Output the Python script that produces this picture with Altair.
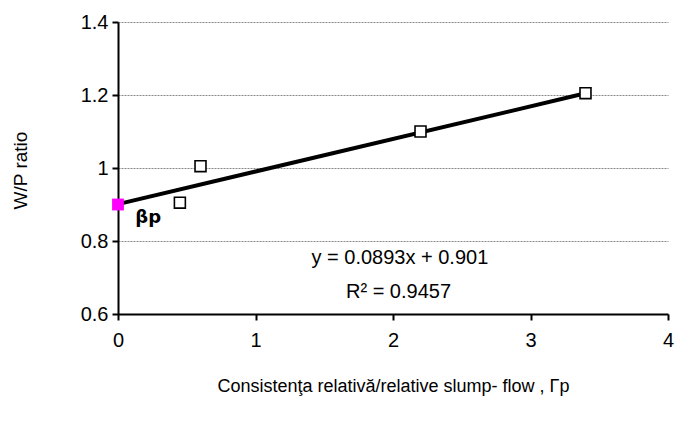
import altair as alt
import pandas as pd

# data
gp = [0.45, 0.6, 2.2, 3.4]
wp = [0.905, 1.005, 1.1, 1.205]
beta_x = [0.0]
beta_y = [0.9]
slope = 0.0893
intercept = 0.901
fit_x = [0.0, 3.4]
eq_texts = ["y = 0.0893x + 0.901", "R² = 0.9457"]
eq_x = [2.05, 2.04]
eq_y = [0.753, 0.66]
beta_label = ["βp"]
beta_lx = [0.22]
beta_ly = [0.862]

FONT = "Liberation Sans"

pts = pd.DataFrame({"x": gp, "y": wp})
beta = pd.DataFrame({"x": beta_x, "y": beta_y})
fit = pd.DataFrame({"x": fit_x, "y": [slope * v + intercept for v in fit_x]})
eq = pd.DataFrame({"x": eq_x, "y": eq_y, "t": eq_texts})
bl = pd.DataFrame({"x": beta_lx, "y": beta_ly, "t": beta_label})

xs = alt.Scale(domain=[0, 4], nice=False, zero=False)
ys = alt.Scale(domain=[0.6, 1.4], nice=False, zero=False)

xax = alt.Axis(values=[0, 1, 2, 3, 4], grid=False, title="Consistenţa relativă/relative slump- flow , Γp",
               format="d", labelFlush=False,
               domainColor="black", domainWidth=2, tickColor="black", tickWidth=2, tickSize=6,
               labelFont=FONT, labelFontSize=20, labelColor="black", labelPadding=10,
               titleFont=FONT, titleFontSize=18, titleFontWeight="normal", titleColor="black",
               titlePadding=27)
yax = alt.Axis(values=[0.6, 0.8, 1.0, 1.2, 1.4], grid=True, gridColor="#888888", gridDash=[2, 1],
               gridWidth=1, title="W/P ratio", labelFlush=False,
               domainColor="black", domainWidth=2, tickColor="black", tickWidth=2, tickSize=6,
               labelFont=FONT, labelFontSize=20, labelColor="black", labelPadding=4,
               titleFont=FONT, titleFontSize=19, titleFontWeight="normal", titleColor="black",
               titleX=-98, titleY=148, titleAnchor="middle", titleBaseline="middle", format="~g")

line = alt.Chart(fit).mark_line(color="black", strokeWidth=4).encode(
    x=alt.X("x:Q", scale=xs, axis=xax), y=alt.Y("y:Q", scale=ys, axis=yax))
points = alt.Chart(pts).mark_point(shape="square", filled=True, fill="white", stroke="black",
                                   strokeWidth=1.6, size=120, opacity=1).encode(
    x=alt.X("x:Q", scale=xs), y=alt.Y("y:Q", scale=ys))
bpt = alt.Chart(beta).mark_point(shape="square", filled=True, color="#ff00ff", size=140, opacity=1).encode(
    x=alt.X("x:Q", scale=xs), y=alt.Y("y:Q", scale=ys))
eqt = alt.Chart(eq).mark_text(font=FONT, fontSize=20, color="black").encode(
    x=alt.X("x:Q", scale=xs), y=alt.Y("y:Q", scale=ys), text="t:N")
blt = alt.Chart(bl).mark_text(font="DejaVu Sans", fontSize=18, fontWeight="bold", color="black").encode(
    x=alt.X("x:Q", scale=xs), y=alt.Y("y:Q", scale=ys), text="t:N")

chart = alt.layer(line, points, bpt, eqt, blt).properties(
    width=550, height=292,
    autosize=alt.AutoSizeParams(type="none"),
    padding={"left": 118, "top": 22, "right": 8, "bottom": 111},
    background="white",
).configure_view(stroke=None)

chart.save("out.html", embed_options={"renderer": "svg", "actions": False})
